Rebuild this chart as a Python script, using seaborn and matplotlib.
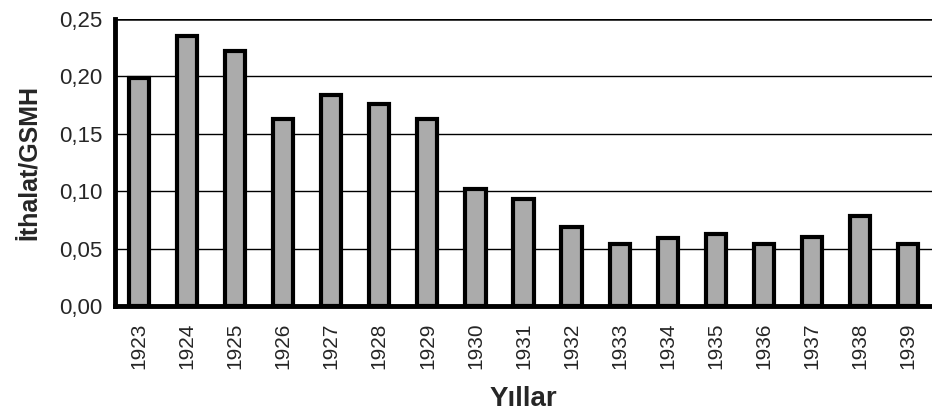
import numpy as np
import pandas as pd
import matplotlib
matplotlib.use("Agg")
import matplotlib.pyplot as plt
import seaborn as sns
from matplotlib.ticker import FuncFormatter

# imports / GNP ratio by year
years = [str(y) for y in range(1923, 1940)]
ratio = [0.199, 0.235, 0.222, 0.163, 0.184, 0.176, 0.163, 0.102, 0.093,
         0.069, 0.054, 0.059, 0.063, 0.054, 0.060, 0.078, 0.054]
yticks = [0.00, 0.05, 0.10, 0.15, 0.20, 0.25]

df = pd.DataFrame({"year": years, "ratio": ratio})

sns.set_style("white")
plt.rcParams["font.family"] = ["Liberation Sans", "DejaVu Sans"]

fig = plt.figure(figsize=(9.32, 4.15), dpi=100)
ax = fig.add_axes([0.1234, 0.2627, 0.8766, 0.6915])

sns.barplot(data=df, x="year", y="ratio", order=years, color="#ababab",
            edgecolor="black", linewidth=3, width=0.42, saturation=1, ax=ax)

ax.set_ylim(0, 0.25)
ax.set_xlim(-0.5, len(years) - 0.5)
ax.set_yticks(yticks)
ax.yaxis.set_major_formatter(FuncFormatter(lambda v, p: f"{v:.2f}".replace(".", ",")))

# gridlines
for v in yticks[1:]:
    ax.axhline(v, color="black", lw=1.8 if v == 0.25 else 1.0, zorder=0)

# spines
for s in ["top", "right"]:
    ax.spines[s].set_visible(False)
for s in ["left", "bottom"]:
    ax.spines[s].set_linewidth(3.5)
    ax.spines[s].set_color("black")

# year labels at centers, tick marks between categories
ax.set_xticks(range(len(years)))
ax.set_xticklabels(years, rotation=90, fontsize=15)
ax.tick_params(axis="x", which="major", length=0, pad=12)
ax.set_xticks(np.arange(-0.5, len(years), 1.0), minor=True)
ax.tick_params(axis="x", which="minor", direction="out", length=6, width=3.5, color="black")
ax.tick_params(axis="y", direction="out", length=6, width=3.5, color="black",
               labelsize=16, pad=3)

ax.set_xlabel("Yıllar", fontsize=20, fontweight="bold")
ax.xaxis.set_label_coords(0.5, -0.28)
ax.set_ylabel("İthalat/GSMH", fontsize=18, fontweight="bold", labelpad=13)

fig.savefig("out.png", dpi=100)
